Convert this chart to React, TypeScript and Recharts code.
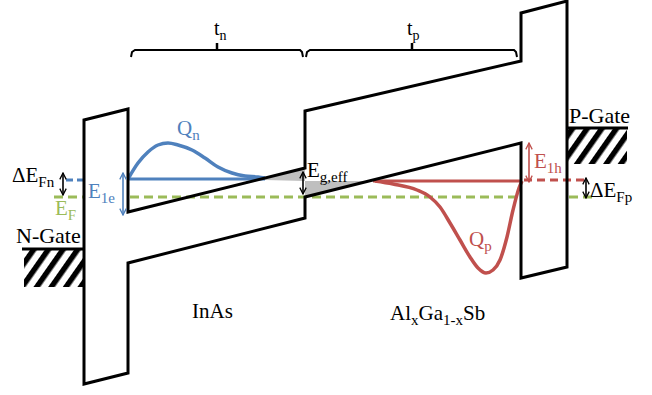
import React from 'react';
import { ComposedChart, Line, Area, Scatter, XAxis, YAxis, ReferenceArea } from 'recharts';

// band edge outline (x along the stack, y = energy drawn downward in plot units)
const bandOutline = [
  { x: 84, y: 120 }, { x: 128, y: 109 }, { x: 128, y: 212 }, { x: 305, y: 168 },
  { x: 305, y: 111 }, { x: 521, y: 61 }, { x: 521, y: 13 }, { x: 567, y: 1 },
  { x: 567, y: 267 }, { x: 521, y: 278 }, { x: 521, y: 143 }, { x: 305, y: 197 },
  { x: 305, y: 218 }, { x: 128, y: 263 }, { x: 128, y: 373 }, { x: 84, y: 384 },
  { x: 84, y: 120 }, { x: 128, y: 109 },
];

const qn = [
  { x: 128, y: 179 }, { x: 138, y: 163 }, { x: 148, y: 152 }, { x: 158, y: 145 },
  { x: 168, y: 143 }, { x: 178, y: 145 }, { x: 192, y: 150 }, { x: 205, y: 158 },
  { x: 218, y: 167 }, { x: 232, y: 173 }, { x: 245, y: 176 }, { x: 258, y: 177 },
  { x: 265, y: 178 },
];
const qp = [
  { x: 375, y: 181 }, { x: 393, y: 184 }, { x: 417, y: 190 }, { x: 430, y: 197 },
  { x: 440, y: 207 }, { x: 450, y: 223 }, { x: 460, y: 240 }, { x: 470, y: 257 },
  { x: 478, y: 268 }, { x: 486, y: 273 }, { x: 493, y: 270 }, { x: 500, y: 260 },
  { x: 507, y: 237 }, { x: 513, y: 210 }, { x: 519, y: 188 }, { x: 522, y: 181 },
];

const e1e = [{ x: 128, y: 179 }, { x: 265, y: 179 }];
const e1h = [{ x: 373, y: 181 }, { x: 522, y: 181 }];
const fermiN = [{ x: 66, y: 180 }, { x: 84, y: 180 }];
const fermiP = [{ x: 524, y: 180 }, { x: 584, y: 180 }];
const fermiLeft = [{ x: 54, y: 197 }, { x: 84, y: 197 }];
const fermiMid = [{ x: 130, y: 197 }, { x: 521, y: 197 }];
const fermiRight = [{ x: 569, y: 197 }, { x: 596, y: 197 }];

// effective gap: [lower, upper] edge
const gapFill = [
  { x: 265, g: [180, 179] }, { x: 305, g: [181, 168] },
  { x: 305, g: [181, 197] }, { x: 373, g: [181, 181] },
];

const arrowFn = [{ x: 63, y: 173 }, { x: 63, y: 195 }];
const arrowE1e = [{ x: 123, y: 173 }, { x: 123, y: 215 }];
const arrowGap = [{ x: 303, y: 172 }, { x: 303, y: 194 }];
const arrowE1h = [{ x: 529, y: 143 }, { x: 529, y: 182 }];
const arrowFp = [{ x: 586, y: 178 }, { x: 586, y: 198 }];

const bracketN = [
  { x: 131, y: 57 }, { x: 132, y: 52 }, { x: 135, y: 50 }, { x: 300, y: 50 },
  { x: 302, y: 52 }, { x: 303, y: 57 },
];
const bracketP = [
  { x: 306, y: 57 }, { x: 307, y: 52 }, { x: 310, y: 50 }, { x: 514, y: 50 },
  { x: 516, y: 52 }, { x: 517, y: 57 },
];
const tickN = [{ x: 217, y: 50 }, { x: 217, y: 43 }];
const tickP = [{ x: 412, y: 50 }, { x: 412, y: 43 }];

const gateN = { x1: 24, x2: 84, y1: 249, y2: 287 };
const gateP = { x1: 567, x2: 627, y1: 128, y2: 164 };
const gateNTop = [{ x: 22, y: 249 }, { x: 85, y: 249 }];
const gatePTop = [{ x: 566, y: 128 }, { x: 628, y: 128 }];

// text: [string, isSubscript]
const labels = [
  { x: 214, y: 35, parts: [['t', 0], ['n', 1]], tone: 'k', kind: 't' },
  { x: 407, y: 35, parts: [['t', 0], ['p', 1]], tone: 'k', kind: 't' },
  { x: 177, y: 135, parts: [['Q', 0], ['n', 1]], tone: 'n', kind: 'm' },
  { x: 12, y: 182, parts: [['ΔE', 0], ['Fn', 1]], tone: 'k', kind: 'm' },
  { x: 55, y: 215, parts: [['E', 0], ['F', 1]], tone: 'f', kind: 'm' },
  { x: 88, y: 198, parts: [['E', 0], ['1e', 1]], tone: 'n', kind: 'm' },
  { x: 16, y: 243, parts: [['N-Gate', 0]], tone: 'k', kind: 'g' },
  { x: 307, y: 177, parts: [['E', 0], ['g,eff', 1]], tone: 'k', kind: 'm' },
  { x: 534, y: 168, parts: [['E', 0], ['1h', 1]], tone: 'p', kind: 'm' },
  { x: 569, y: 123, parts: [['P-Gate', 0]], tone: 'k', kind: 'g' },
  { x: 590, y: 197, parts: [['ΔE', 0], ['Fp', 1]], tone: 'k', kind: 'm' },
  { x: 469, y: 246, parts: [['Q', 0], ['p', 1]], tone: 'p', kind: 'm' },
  { x: 192, y: 318, parts: [['InAs', 0]], tone: 'k', kind: 'm' },
  { x: 390, y: 320, parts: [['Al', 0], ['x', 1], ['Ga', 0], ['1-x', 1], ['Sb', 0]], tone: 'k', kind: 'm' },
];

const BLUE = '#4f81bd';
const RED = '#c0504d';
const GREEN = '#9bbb59';
const tones: Record<string, string> = { k: '#000', n: BLUE, p: RED, f: GREEN };
const sizes: Record<string, number> = { t: 20, m: 21, g: 22 };
const FONT = "'Liberation Serif', 'Times New Roman', serif";

function LabelShape(props: any) {
  const { cx, cy, payload } = props;
  const size = sizes[payload.kind];
  const subSize = Math.round(size * 0.72);
  const shift = 5;
  let down = false;
  return (
    <text x={cx} y={cy} fill={tones[payload.tone]} style={{ fontFamily: FONT, fontSize: size }}>
      {payload.parts.map(([t, sub]: [string, number], i: number) => {
        let dy = 0;
        if (sub && !down) { dy = shift; down = true; }
        else if (!sub && down) { dy = -shift; down = false; }
        return (
          <tspan key={i} dy={dy} style={{ fontSize: sub ? subSize : size }}>{t}</tspan>
        );
      })}
    </text>
  );
}

const line = (data: any[], stroke: string, width: number, extra: any = {}) => (
  <Line
    data={data}
    dataKey="y"
    type="linear"
    stroke={stroke}
    strokeWidth={width}
    dot={false}
    activeDot={false}
    isAnimationActive={false}
    legendType="none"
    {...extra}
  />
);

export default function App() {
  return (
    <div style={{ position: 'absolute', left: 0, top: 0, background: '#fff', fontFamily: FONT }}>
      <ComposedChart width={652} height={395} margin={{ top: 0, right: 0, bottom: 0, left: 0 }}>
        <defs>
          <pattern id="hatch" patternUnits="userSpaceOnUse" width="12" height="12" patternTransform="rotate(35)">
            <rect x="0" y="0" width="5.5" height="12" fill="#000" />
          </pattern>
          <marker id="ahK" viewBox="0 0 10 10" refX="9" refY="5" markerWidth="8" markerHeight="8"
            markerUnits="userSpaceOnUse" orient="auto-start-reverse">
            <path d="M1,1 L9,5 L1,9" fill="none" stroke="#000" strokeWidth="1.6" />
          </marker>
          <marker id="ahB" viewBox="0 0 10 10" refX="9" refY="5" markerWidth="8" markerHeight="8"
            markerUnits="userSpaceOnUse" orient="auto-start-reverse">
            <path d="M1,1 L9,5 L1,9" fill="none" stroke={BLUE} strokeWidth="1.6" />
          </marker>
          <marker id="ahR" viewBox="0 0 10 10" refX="9" refY="5" markerWidth="8" markerHeight="8"
            markerUnits="userSpaceOnUse" orient="auto-start-reverse">
            <path d="M1,1 L9,5 L1,9" fill="none" stroke={RED} strokeWidth="1.6" />
          </marker>
        </defs>
        <XAxis type="number" dataKey="x" domain={[0, 652]} allowDataOverflow hide />
        <YAxis type="number" dataKey="y" domain={[0, 395]} reversed allowDataOverflow hide />

        <ReferenceArea {...gateN} fill="url(#hatch)" fillOpacity={1} stroke="none" ifOverflow="visible" />
        <ReferenceArea {...gateP} fill="url(#hatch)" fillOpacity={1} stroke="none" ifOverflow="visible" />

        <Area data={gapFill} dataKey="g" type="linear" stroke="none" fill="#bfbfbf" fillOpacity={1}
          isAnimationActive={false} dot={false} activeDot={false} legendType="none" />

        {line(fermiLeft, GREEN, 3, { strokeDasharray: '9 5' })}
        {line(fermiMid, GREEN, 3, { strokeDasharray: '9 5' })}
        {line(fermiRight, GREEN, 3, { strokeDasharray: '9 5' })}
        {line(fermiN, BLUE, 3, { strokeDasharray: '7 4' })}
        {line(fermiP, RED, 3, { strokeDasharray: '8 5' })}

        {line(e1e, BLUE, 3)}
        {line(qn, BLUE, 3.5, { type: 'monotone' })}
        {line(e1h, RED, 3)}
        {line(qp, RED, 3.5, { type: 'monotone' })}

        {line(bandOutline, '#000', 3)}
        {line(gateNTop, '#000', 3)}
        {line(gatePTop, '#000', 3)}

        {line(bracketN, '#000', 2)}
        {line(bracketP, '#000', 2)}
        {line(tickN, '#000', 2.5)}
        {line(tickP, '#000', 2.5)}

        {line(arrowFn, '#000', 1.6, { markerStart: 'url(#ahK)', markerEnd: 'url(#ahK)' })}
        {line(arrowGap, '#000', 1.6, { markerStart: 'url(#ahK)', markerEnd: 'url(#ahK)' })}
        {line(arrowFp, '#000', 1.6, { markerStart: 'url(#ahK)', markerEnd: 'url(#ahK)' })}
        {line(arrowE1e, BLUE, 1.6, { markerStart: 'url(#ahB)', markerEnd: 'url(#ahB)' })}
        {line(arrowE1h, RED, 1.6, { markerStart: 'url(#ahR)', markerEnd: 'url(#ahR)' })}

        <Scatter data={labels} dataKey="y" shape={LabelShape} isAnimationActive={false} legendType="none" />
      </ComposedChart>
    </div>
  );
}
